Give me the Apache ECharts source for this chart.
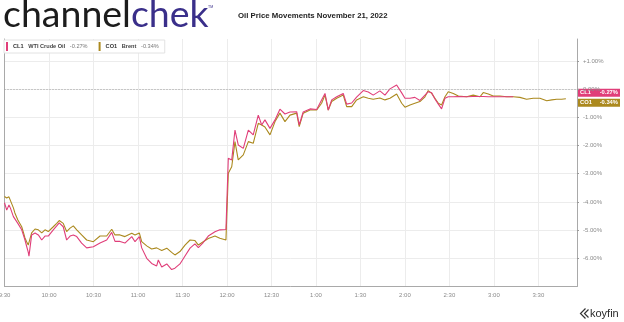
<!DOCTYPE html>
<html><head><meta charset="utf-8">
<script src="https://cdn.jsdelivr.net/npm/echarts@6/dist/echarts.min.js"></script>
<style>html,body{margin:0;padding:0;background:#fff}#c{width:624px;height:322px}</style>
</head><body><div id="c"></div>
<script>
// minutes after 9:30 AM
const times = [0,1.5,3,4,6,7,9,11.6,12.7,13.8,15,16,16.5,17.2,18.3,20.6,22.8,25.1,27.3,29.5,30.7,32.9,35.2,36.9,39.6,41.9,44.2,46.4,48.7,52,55.4,59.9,64.4,68.9,72.3,74.5,77.9,81.2,85.8,88,90.9,92.5,95.9,99.2,102.6,103.7,106,109.4,112.7,114.9,118.3,121.7,125.1,128.4,130.7,134,137.4,141.9,145.2,149.3,150.9,153.2,155.4,157.6,161,164.4,167.7,171.1,173.4,175.6,179,182.4,185.7,189.1,192.5,197,198.7,201.4,206,210.5,213.8,216.1,218.3,220.6,224,228.4,230.7,234.1,237.4,241.9,245.3,248.6,253.1,256.5,259.9,264.4,267.8,270,273.4,276.7,280.1,283.5,285.7,288,290.2,292.5,294.7,297,299.2,302.6,306,311.6,316,320.6,322.8,326.2,329.5,334,338.6,343,347.5,352,356.5,361,365.6,369,372.3,375.6,378.5];
const wtiValues = [-4.03,-4.29,-4.11,-4.22,-4.52,-4.60,-4.76,-4.99,-5.17,-5.35,-5.59,-5.78,-5.92,-5.63,-5.17,-5.10,-5.17,-5.35,-5.21,-5.21,-5.21,-4.99,-4.85,-4.74,-4.88,-5.35,-5.21,-5.17,-5.23,-5.46,-5.63,-5.59,-5.46,-5.35,-5.08,-5.40,-5.40,-5.46,-5.23,-5.41,-5.23,-5.63,-6.00,-6.18,-6.27,-6.06,-6.31,-6.20,-6.40,-6.35,-6.20,-5.92,-5.64,-5.49,-5.62,-5.44,-5.21,-5.06,-4.99,-4.98,-2.45,-2.51,-1.45,-1.98,-2.10,-1.45,-1.62,-0.92,-1.27,-1.09,-1.39,-1.09,-0.71,-0.88,-0.81,-0.80,-1.27,-0.81,-0.70,-0.72,-0.38,-0.15,-0.74,-0.38,-0.27,-0.15,-0.53,-0.49,-0.28,-0.05,-0.10,-0.21,-0.06,-0.21,0.01,0.15,-0.13,-0.32,-0.32,-0.29,-0.40,-0.21,-0.09,-0.13,-0.35,-0.53,-0.70,-0.32,-0.27,-0.27,-0.26,-0.27,-0.26,-0.26,-0.26,-0.27,-0.27,-0.27,-0.27,-0.27,null,null,null,null,null,null,null,null,null];
const brentValues = [-3.81,-3.86,-3.82,-3.81,-4.21,-4.39,-4.64,-4.88,-5.07,-5.28,-5.42,-5.53,-5.56,-5.59,-5.10,-4.96,-4.99,-5.10,-4.99,-5.05,-4.99,-4.88,-4.76,-4.66,-4.76,-5.05,-4.93,-4.85,-4.99,-5.17,-5.35,-5.41,-5.21,-5.21,-4.97,-5.17,-5.17,-5.23,-5.11,-5.17,-5.10,-5.41,-5.56,-5.67,-5.63,-5.59,-5.72,-5.64,-5.79,-5.88,-5.76,-5.53,-5.35,-5.37,-5.53,-5.41,-5.30,-5.21,-5.29,-5.35,-2.98,-2.75,-1.86,-2.51,-2.33,-1.86,-1.92,-1.21,-1.27,-1.34,-1.62,-1.15,-0.85,-1.15,-0.92,-0.85,-1.33,-0.85,-0.74,-0.74,-0.50,-0.21,-0.74,-0.44,-0.32,-0.21,-0.62,-0.62,-0.38,-0.27,-0.32,-0.36,-0.31,-0.38,-0.32,-0.17,-0.50,-0.64,-0.56,-0.50,-0.44,-0.27,-0.05,-0.15,-0.32,-0.50,-0.56,-0.27,-0.09,-0.15,-0.24,-0.27,-0.21,-0.27,-0.12,-0.17,-0.24,-0.24,-0.27,-0.27,-0.29,-0.36,-0.32,-0.32,-0.41,-0.38,-0.36,-0.36,-0.34];
const seriesCodes = ['CL1','CO1'];
const seriesNames = ['WTI Crude Oil','Brent'];
const seriesChange = ['-0.27%','-0.34%'];
const seriesColors = ['#E03E79','#AB891E'];
const timeLabels = ['9:30','10:00','10:30','11:00','11:30','12:00','12:30','1:00','1:30','2:00','2:30','3:00','3:30'];
const titleText = 'Oil Price Movements November 21, 2022';

const FONT = 'Liberation Sans, Arial, sans-serif';
const chart = echarts.init(document.getElementById('c'), null, {renderer:'canvas'});

const wtiData = times.map((t,i)=>[t, wtiValues[i]]).filter(d=>d[1]!==null);
const brentData = times.map((t,i)=>[t, brentValues[i]]).filter(d=>d[1]!==null);

const yFmt = v => {
  if (Math.abs(v) < 1e-9) return '0.00%';
  return (v > 0 ? '+' : '') + v.toFixed(2) + '%';
};

const option = {
  animation: false,
  backgroundColor: '#fff',
  grid: {left: 4.5, right: 47, top: 39, bottom: 35.5, containLabel: false, outerBoundsMode: 'none'},
  legend: {
    data: seriesCodes,
    left: 4, top: 40,
    orient: 'horizontal',
    icon: 'rect', itemWidth: 2, itemHeight: 9, itemGap: 11,
    padding: [2, 6, 2, 2],
    backgroundColor: '#fff', borderColor: '#e2e2e2', borderWidth: 1,
    selectedMode: false,
    formatter: name => {
      const i = seriesCodes.indexOf(name);
      return '{a|' + name + '}   {b|' + seriesNames[i] + '}   {c|' + seriesChange[i] + '}';
    },
    textStyle: {
      fontFamily: FONT, fontSize: 5.6, color: '#333',
      rich: {
        a: {fontFamily: FONT, fontSize: 5.6, fontWeight: 'bold', color: '#333'},
        b: {fontFamily: FONT, fontSize: 5.6, fontWeight: 'bold', color: '#444'},
        c: {fontFamily: FONT, fontSize: 5.6, color: '#777'}
      }
    }
  },
  xAxis: {
    type: 'value', min: 0, max: 386, interval: 30,
    axisLine: {show: true, onZero: false, lineStyle: {color: '#a9a9a9', width: 1}},
    axisTick: {show: false},
    axisLabel: {fontFamily: FONT, fontSize: 6, color: '#8a8a8a', margin: 6,
      showMaxLabel: false, hideOverlap: false,
      formatter: v => { const k = Math.round(v/30); return (Math.abs(v - k*30) < 1e-6 && timeLabels[k]) ? timeLabels[k] : ''; }},
    splitLine: {show: true, lineStyle: {color: '#ececec', width: 1}}
  },
  yAxis: [{
    type: 'value', position: 'right', min: -7, max: 1.78, interval: 1,
    axisLine: {show: true, onZero: false, lineStyle: {color: '#a9a9a9', width: 1}},
    axisTick: {show: true, length: 2, lineStyle: {color: '#9a9a9a'}},
    axisLabel: {fontFamily: FONT, fontSize: 6, color: '#8a8a8a', margin: 6,
      showMinLabel: false, showMaxLabel: false, formatter: yFmt},
    splitLine: {show: true, showMinLine: false, showMaxLine: false, lineStyle: {color: '#ececec', width: 1}}
  }, {
    type: 'value', position: 'left', min: -7, max: 1.78,
    axisLine: {show: true, onZero: false, lineStyle: {color: '#a9a9a9', width: 1}},
    axisTick: {show: false}, axisLabel: {show: false}, splitLine: {show: false}
  }],
  series: [{
    name: seriesCodes[1], type: 'line', data: brentData, yAxisIndex: 0,
    showSymbol: false, symbol: 'none', z: 2,
    lineStyle: {color: seriesColors[1], width: 1.1},
    itemStyle: {color: seriesColors[1]},
    markLine: {silent: true, symbol: 'none', label: {show: false},
      lineStyle: {type: [1, 2], color: '#a0a0a0', width: 1},
      data: [{yAxis: 0}]}
  }, {
    name: seriesCodes[0], type: 'line', data: wtiData, yAxisIndex: 0,
    showSymbol: false, symbol: 'none', z: 3,
    lineStyle: {color: seriesColors[0], width: 1.1},
    itemStyle: {color: seriesColors[0]}
  }]
};
chart.setOption(option);

// End-of-series tags on the right axis
const xRight = chart.convertToPixel({xAxisIndex: 0}, 386);
const lastW = wtiData[wtiData.length-1][1];
const lastB = brentData[brentData.length-1][1];
const yW = chart.convertToPixel({yAxisIndex: 0}, lastW);
const yB = chart.convertToPixel({yAxisIndex: 0}, lastB);
const tagH = 8.2, tagGap = 1.8;
let cW = yW, cB = yB;
if (Math.abs(yW - yB) < tagH + tagGap) {
  const mid = (yW + yB) / 2, half = (tagH + tagGap) / 2;
  if (yW <= yB) { cW = mid - half; cB = mid + half; } else { cW = mid + half; cB = mid - half; }
}
function tag(cy, i) {
  return {
    type: 'group', z: 100,
    children: [
      {type: 'rect', shape: {x: xRight, y: cy - tagH/2, width: 43, height: tagH}, style: {fill: seriesColors[i]}},
      {type: 'text', x: xRight + 3, y: cy, style: {text: seriesCodes[i], fill: '#fff', font: 'bold 5.8px ' + FONT, verticalAlign: 'middle', align: 'left'}},
      {type: 'text', x: xRight + 41, y: cy, style: {text: seriesChange[i], fill: '#fff', font: 'bold 5.8px ' + FONT, verticalAlign: 'middle', align: 'right'}}
    ]
  };
}
const graphics = [
  {type: 'text', left: 3, top: -4, style: {
    text: '{a|channel}{b|chek}',
    rich: {a: {fontFamily: 'Lato', fontWeight: 400, fontSize: 37.5, fill: '#1c1c1c', color: '#1c1c1c'},
           b: {fontFamily: 'Lato', fontWeight: 400, fontSize: 37.5, fill: '#3a2f8a', color: '#3a2f8a'}}
  }},
  {type: 'text', x: 208, y: 5, style: {text: 'TM', fill: '#3a2f8a', font: '3.5px ' + FONT}},
  {type: 'text', x: 238, y: 16, style: {text: titleText, fill: '#222', font: 'bold 7.8px ' + FONT, verticalAlign: 'middle'}},
  tag(cW, 0), tag(cB, 1),
  {type: 'polyline', shape: {points: [[585.5,308.5],[580.5,313.5],[585.5,318.5]]}, style: {stroke: '#333', lineWidth: 1.2, fill: null}},
  {type: 'polyline', shape: {points: [[588.5,309.5],[584.5,313.5],[588.5,317.5]]}, style: {stroke: '#333', lineWidth: 1.2, fill: null}},
  {type: 'text', x: 590, y: 313.5, style: {text: 'koyfin', fill: '#2a2a2a', font: '11px ' + FONT, verticalAlign: 'middle'}}
];
chart.setOption({graphic: graphics});
</script>
</body></html>
